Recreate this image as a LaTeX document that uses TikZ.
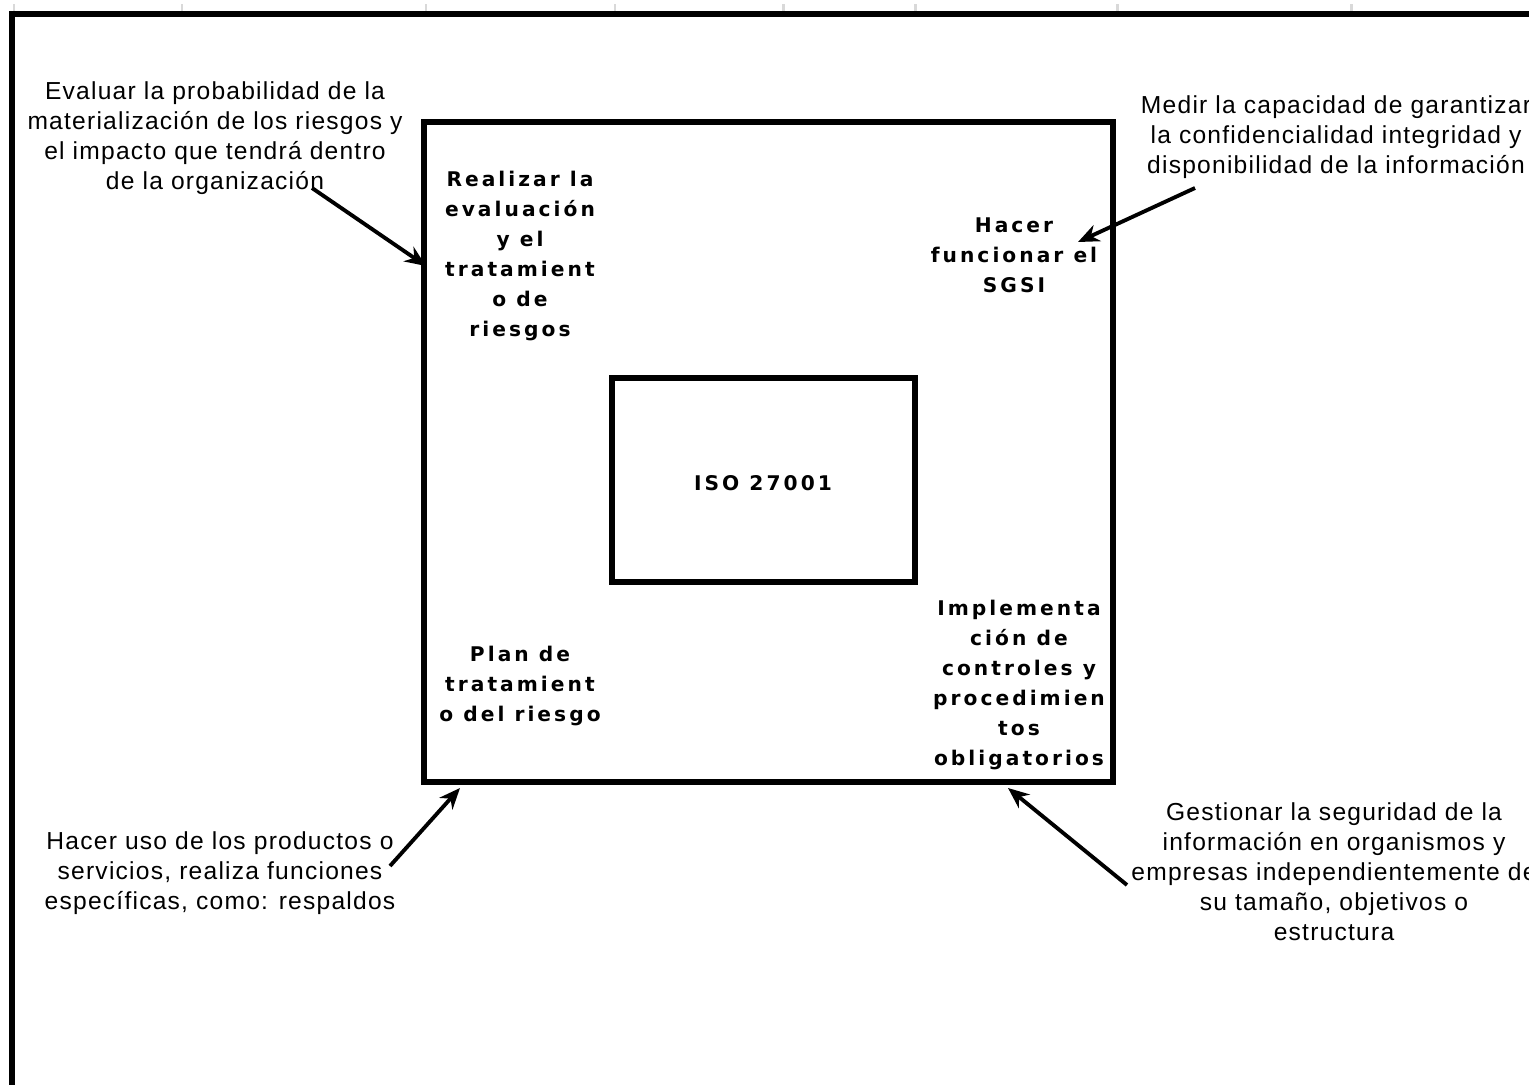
\documentclass[tikz,border=0pt]{standalone}
\usepackage{fontspec}
\setmainfont{Liberation Sans}
\newfontfamily\textofont{Liberation Sans}[LetterSpace=5]
\newfontfamily\cajafont{DejaVu Sans}[LetterSpace=15]
\usetikzlibrary{arrows.meta}
\begin{document}
\begin{tikzpicture}[>=Stealth, x=0.02cm, y=-0.02cm,
    nota/.style={align=center, inner sep=0pt, font=\textofont\fontsize{14}{17.1}\selectfont},
    etapa/.style={align=center, inner sep=0pt, font=\cajafont\bfseries\fontsize{11.5}{17.1}\selectfont},
    marco/.style={line width=3.2pt},
    flecha/.style={-{Stealth[length=12pt, width=10pt]}, line width=2.2pt}]

    \clip (0,0) rectangle (1529,1085);

    % marcas de la cuadricula
    \foreach \x in {14,182,426,615,783,915,1117,1351}
        \draw[gray!30, line width=1.7pt] (\x,4) -- (\x,11);

    % marco exterior
    \draw[marco] (12,1100) -- (12,14) -- (1540,14);

    % cajas
    \draw[marco] (424,122) rectangle (1113,782);
    \draw[marco] (612,378) rectangle (915,582);
    \node[etapa] (iso) at (763,483) {ISO 27001};

    % etapas dentro de la caja
    \node[etapa] (evaluacion) at (520,256) {Realizar la\\evaluación\\y el\\tratamient\\o de\\riesgos};
    \node[etapa] (funcionar) at (1014,255) {Hacer\\funcionar el\\SGSI};
    \node[etapa] (plan) at (520,686) {Plan de\\tratamient\\o del riesgo};
    \node[etapa] (implementa) at (1019,685) {Implementa\\ción de\\controles y\\procedimien\\tos\\obligatorios};

    % notas de fuera
    \node[nota] (notaNO) at (215,138) {Evaluar la probabilidad de la\\materialización de los riesgos y\\el impacto que tendrá dentro\\de la organización};
    \node[nota] (notaNE) at (1336,137) {Medir la capacidad de garantizar\\la confidencialidad integridad y\\disponibilidad de la información};
    \node[nota] (notaSO) at (220,873) {Hacer uso de los productos o\\servicios, realiza funciones\\específicas, como: respaldos};
    \node[nota] (notaSE) at (1334,872) {Gestionar la seguridad de la\\información en organismos y\\empresas independientemente de\\su tamaño, objetivos o\\estructura};

    % puntos de las flechas
    \coordinate (inNO) at (312,188);
    \coordinate (finNO) at (426,266);
    \coordinate (inNE) at (1195,188);
    \coordinate (finNE) at (1078,242);
    \coordinate (inSO) at (390,866);
    \coordinate (finSO) at (460,788);
    \coordinate (inSE) at (1127,885);
    \coordinate (finSE) at (1008,788);

    % flechas
    \draw[flecha] (inNO) -- (finNO);
    \draw[flecha] (inNE) -- (finNE);
    \draw[flecha] (inSO) -- (finSO);
    \draw[flecha] (inSE) -- (finSE);

\end{tikzpicture}
\end{document}
